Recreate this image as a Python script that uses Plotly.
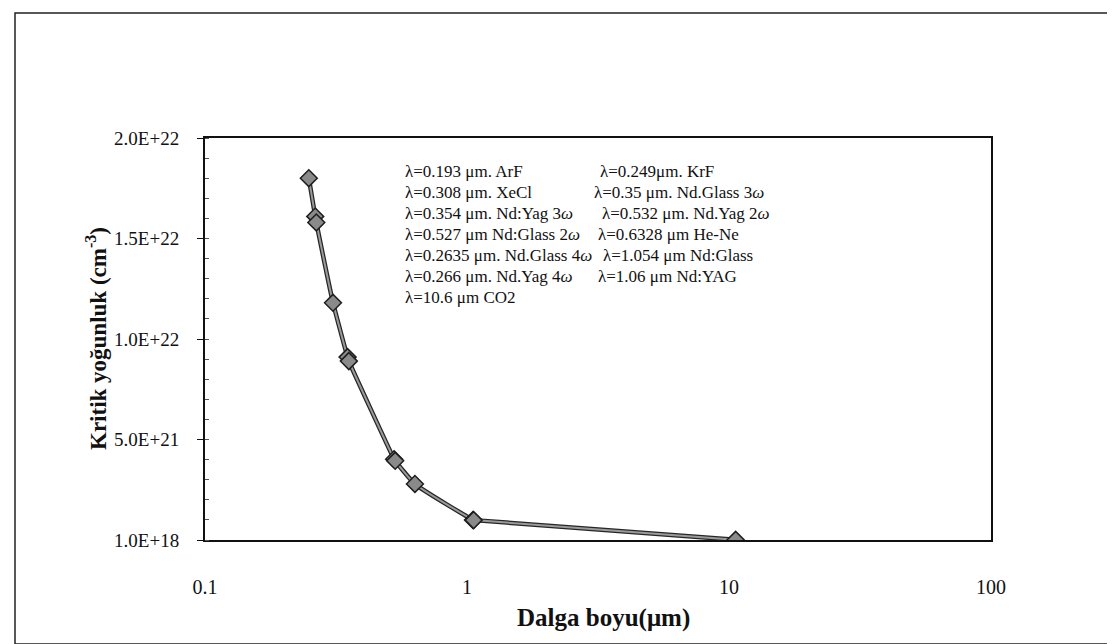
import plotly.graph_objects as go

# Values (x: Dalga boyu in um, y: Kritik yogunluk in cm^-3)
wavelength_um = [0.249, 0.2635, 0.266, 0.308, 0.35, 0.354, 0.527, 0.532, 0.6328, 1.054, 1.06, 10.6]
critical_density = [1.80e22, 1.61e22, 1.58e22, 1.18e22, 9.10e21, 8.90e21, 4.02e21, 3.94e21, 2.79e21, 1.00e21, 9.90e20, 9.90e18]

y_tick_vals = [1e18, 5e21, 1e22, 1.5e22, 2e22]
y_tick_text = ["1.0E+18", "5.0E+21", "1.0E+22", "1.5E+22", "2.0E+22"]
x_tick_vals = [0.1, 1, 10, 100]
x_tick_text = ["0.1", "1", "10", "100"]

labels_left = [
    "λ=0.193 μm. ArF",
    "λ=0.308 μm. XeCl",
    "λ=0.354 μm. Nd:Yag 3<i>ω</i>",
    "λ=0.527 μm Nd:Glass 2<i>ω</i>",
    "λ=0.2635 μm. Nd.Glass 4<i>ω</i>",
    "λ=0.266 μm. Nd.Yag 4<i>ω</i>",
    "λ=10.6 μm CO2",
]
labels_right = [
    "λ=0.249μm. KrF",
    "λ=0.35 μm. Nd.Glass 3<i>ω</i>",
    "λ=0.532 μm. Nd.Yag 2<i>ω</i>",
    "λ=0.6328 μm He-Ne",
    "λ=1.054 μm Nd:Glass",
    "λ=1.06 μm Nd:YAG",
]

W, H = 1115, 644
PL, PR, PT, PB = 197, 983, 130, 532
FONT = "Liberation Serif, Times New Roman, serif"


def px(x):
    return (x - PL) / (PR - PL)


def py(y):
    return (PB - y) / (PB - PT)


fig = go.Figure()
fig.add_trace(go.Scatter(
    x=wavelength_um, y=critical_density, mode="lines",
    line=dict(color="#262626", width=4.5, shape="spline", smoothing=0.5),
    hoverinfo="skip", showlegend=False))
fig.add_trace(go.Scatter(
    x=wavelength_um, y=critical_density, mode="lines+markers",
    line=dict(color="#9a9a9a", width=2, shape="spline", smoothing=0.5),
    marker=dict(symbol="diamond", size=13, color="#8a8a8a",
                line=dict(color="#1e1e1e", width=1.5)),
    showlegend=False))

annotations = []
line_y = [163, 184, 205, 226, 247, 268, 289]
right_x = [590, 584, 592, 588, 593, 588]
for i, t in enumerate(labels_left):
    annotations.append(dict(x=px(395), y=py(line_y[i]), xref="paper", yref="paper",
                            text=t, showarrow=False, xanchor="left", yanchor="middle",
                            font=dict(family=FONT, size=17, color="#111")))
for i, t in enumerate(labels_right):
    annotations.append(dict(x=px(right_x[i]), y=py(line_y[i]), xref="paper", yref="paper",
                            text=t, showarrow=False, xanchor="left", yanchor="middle",
                            font=dict(family=FONT, size=17, color="#111")))

# axis titles
annotations.append(dict(x=px(88), y=py(331), xref="paper", yref="paper",
                        text="<b>Kritik yoğunluk (cm<sup>-3</sup>)</b>", textangle=-90,
                        showarrow=False, xanchor="center", yanchor="middle",
                        font=dict(family=FONT, size=23, color="#111")))
annotations.append(dict(x=px(595), y=py(610), xref="paper", yref="paper",
                        text="<b>Dalga boyu(μm)</b>",
                        showarrow=False, xanchor="center", yanchor="middle",
                        font=dict(family=FONT, size=25, color="#111")))

shapes = [dict(type="rect", xref="paper", yref="paper",
               x0=px(7), x1=px(1106), y0=py(636), y1=py(5),
               line=dict(color="#222", width=1.5), fillcolor="rgba(0,0,0,0)", layer="below")]

fig.update_layout(
    width=W, height=H,
    margin=dict(l=PL, r=W - PR, t=PT, b=H - PB),
    paper_bgcolor="white", plot_bgcolor="white",
    font=dict(family=FONT, size=17, color="#111"),
    annotations=annotations, shapes=shapes,
    xaxis=dict(type="log", range=[-1, 2], tickvals=x_tick_vals, ticktext=x_tick_text,
               showgrid=False, zeroline=False, showline=True, linecolor="#111", linewidth=2,
               mirror=True, ticks="", ticklabelstandoff=28,
               tickfont=dict(family=FONT, size=20)),
    yaxis=dict(range=[1e18, 2e22], tickvals=y_tick_vals, ticktext=y_tick_text,
               showgrid=False, zeroline=False, showline=True, linecolor="#111", linewidth=2,
               mirror=True, ticks="outside", ticklen=6, tickcolor="#111", ticklabelstandoff=14,
               tickfont=dict(family=FONT, size=19),
               minor=dict(dtick=1e21, ticks="inside", ticklen=4, tickcolor="#555")),
)

fig.write_html("out.html")
